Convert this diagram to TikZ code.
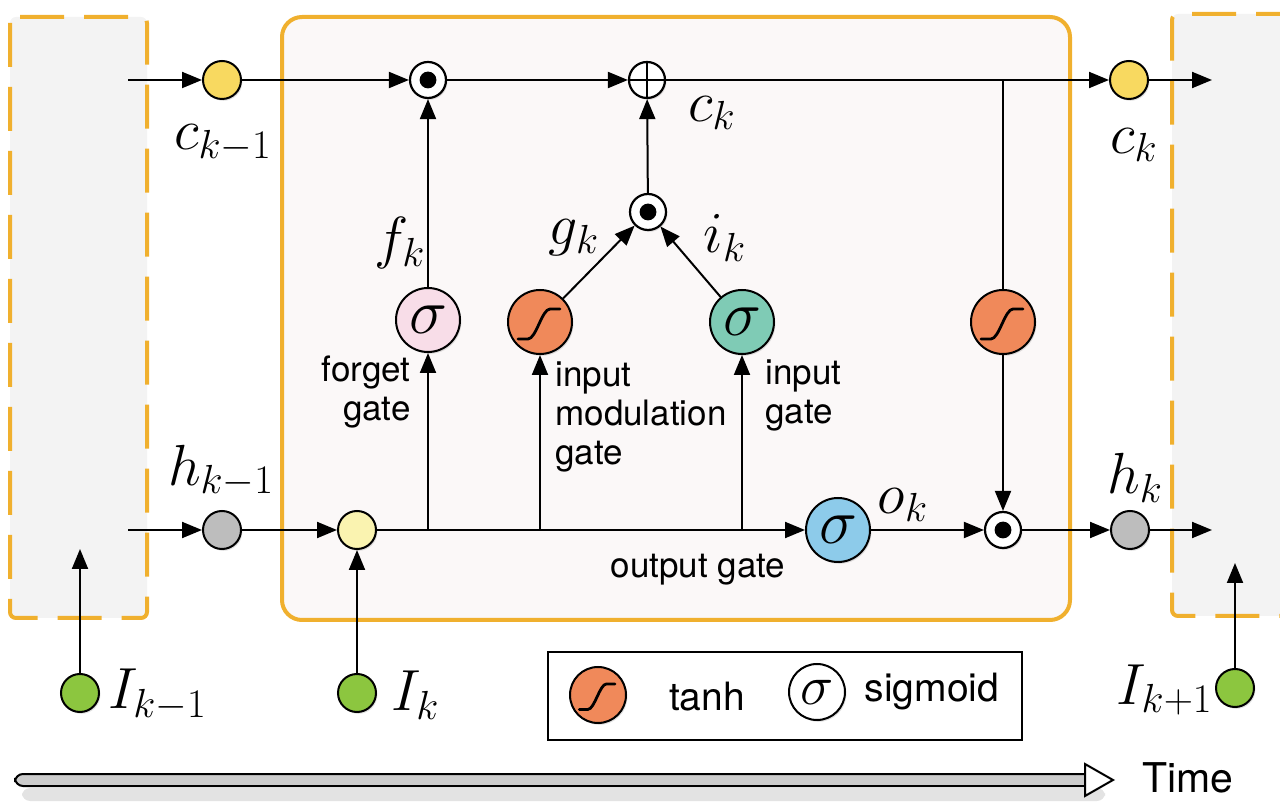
\RequirePackage{fix-cm}
\documentclass[tikz,border=0pt]{standalone}
\usepackage{fontspec}
\setsansfont{TeX Gyre Heros}
\usetikzlibrary{arrows.meta,shadows}
\definecolor{frameor}{HTML}{F0B02E}
\definecolor{cellfill}{HTML}{FBF8F8}
\definecolor{sidefill}{HTML}{F3F3F3}
\definecolor{cyel}{HTML}{F8D960}
\definecolor{hgray}{HTML}{BDBDBD}
\definecolor{xyel}{HTML}{FAF3B0}
\definecolor{igreen}{HTML}{8CC63F}
\definecolor{fpink}{HTML}{F8DDE8}
\definecolor{torange}{HTML}{F0895A}
\definecolor{iteal}{HTML}{7FCBB5}
\definecolor{oblue}{HTML}{8DCBEA}
\newcommand\tanhmark[2][1]{\draw[line width=1.4pt, line cap=round, shift={(#2.center)}, scale=#1] (-11pt,-8.5pt) -- (-6pt,-8.5pt) .. controls (-2pt,-8.5pt) and (1pt,6.5pt) .. (5pt,6.5pt) -- (10pt,6.5pt);}
\begin{document}
\begin{tikzpicture}[x=0.5pt,y=-0.5pt,
  shd/.style={drop shadow={opacity=0.25, shadow xshift=0.7pt, shadow yshift=-0.9pt}},
  small/.style={circle, draw, line width=1pt, minimum size=19pt, inner sep=0pt, shd},
  gate/.style={circle, draw, line width=1pt, minimum size=32pt, inner sep=0pt, shd, font=\fontsize{32}{32}\selectfont},
  opnode/.style={circle, draw, line width=1.1pt, fill=white, minimum size=18pt, inner sep=0pt, shd},
  odotnode/.style={opnode, path picture={\fill[black] (path picture bounding box.center) circle (4.2pt);}},
  oplusnode/.style={opnode, path picture={\draw[line width=1pt] (path picture bounding box.north) -- (path picture bounding box.south) (path picture bounding box.west) -- (path picture bounding box.east);}},
  arr/.style={-{Triangle[length=10pt,width=8pt]}, line width=1pt},
  ln/.style={line width=1pt},
  mlbl/.style={inner sep=0pt, font=\fontsize{29}{29}\selectfont},
  txt/.style={inner sep=0pt, font=\sffamily\fontsize{17.5}{19.5}\selectfont},
  bigtxt/.style={inner sep=0pt, font=\sffamily\fontsize{19.5}{21}\selectfont},
  frame/.style={draw=frameor, line width=2pt}
]
\useasboundingbox (0,0) rectangle (1280,806);
% boxes
\draw[frame, fill=sidefill, dash pattern=on 22pt off 10pt, rounded corners=3pt] (10,17) rectangle (147,618);
\draw[frame, fill=sidefill, dash pattern=on 22pt off 10pt, rounded corners=3pt] (1300,14) -- (1172,14) -- (1172,616) -- (1300,616);
\draw[frame, fill=cellfill, rounded corners=10pt] (282,17) rectangle (1070,620);

% top row
\coordinate (cs) at (128,80);
\node[small, fill=cyel] (cprev) at (222,80) {};
\node[odotnode] (fmul) at (428,80) {};
\node[oplusnode] (cadd) at (647,80) {};
\coordinate (cj) at (1003,80);
\node[small, fill=cyel] (cout) at (1129,80) {};
\coordinate (ce) at (1212,80);

% gates
\node[gate, fill=fpink] (fsig) at (428,320) {$\sigma$};
\node[odotnode] (gmul) at (648,212) {};
\node[gate, fill=torange] (gtanh) at (540,322) {};
\node[gate, fill=iteal] (isig) at (742,322) {$\sigma$};
\node[gate, fill=torange] (ctanh) at (1003,322) {};
\tanhmark{gtanh}
\tanhmark{ctanh}

% bottom row
\coordinate (hs) at (128,530);
\node[small, fill=hgray] (hprev) at (222,530) {};
\node[small, fill=xyel] (xin) at (357,530) {};
\coordinate (j1) at (428,530);
\coordinate (j2) at (540,530);
\coordinate (j3) at (742,530);
\node[gate, fill=oblue] (osig) at (838,530) {$\sigma$};
\node[odotnode] (hmul) at (1003,530) {};
\node[small, fill=hgray] (hout) at (1130,530) {};
\coordinate (he) at (1212,530);

% inputs
\node[small, fill=igreen] (Iprev) at (80,693) {};
\coordinate (Iprevt) at (80,549);
\node[small, fill=igreen] (Ik) at (357,693) {};
\node[small, fill=igreen] (Inext) at (1235,688) {};
\coordinate (Inextt) at (1235,563);

% connectors top
\draw[arr] (cs) -- (cprev);
\draw[arr] (cprev) -- (fmul);
\draw[arr] (fmul) -- (cadd);
\draw[arr] (cadd) -- (cout);
\draw[arr] (cout) -- (ce);
\draw[arr] (fsig) -- (fmul);
\draw[arr] (gmul) -- (cadd);
\draw[arr] (gtanh) -- (gmul);
\draw[arr] (isig) -- (gmul);
\draw[ln] (cj) -- (ctanh);
\draw[arr] (ctanh) -- (hmul);

% connectors bottom
\draw[arr] (hs) -- (hprev);
\draw[arr] (hprev) -- (xin);
\draw[arr] (xin) -- (osig);
\draw[arr] (j1) -- (fsig);
\draw[arr] (j2) -- (gtanh);
\draw[arr] (j3) -- (isig);
\draw[arr] (osig) -- (hmul);
\draw[arr] (hmul) -- (hout);
\draw[arr] (hout) -- (he);
\draw[arr] (Iprev) -- (Iprevt);
\draw[arr] (Ik) -- (xin);
\draw[arr] (Inext) -- (Inextt);

% math labels
\node[mlbl] (lcp) at (223,143) {$c_{k-1}$};
\node[mlbl] (lf) at (400,243) {$f_k$};
\node[mlbl] (lc) at (712,113) {$c_k$};
\node[mlbl] (lg) at (574,238) {$g_k$};
\node[mlbl] (li) at (725,238) {$i_k$};
\node[mlbl] (lco) at (1134,145) {$c_k$};
\node[mlbl] (lhp) at (221,471) {$h_{k-1}$};
\node[mlbl] (lo) at (903,505) {$o_k$};
\node[mlbl] (lh) at (1135,478) {$h_k$};
\node[mlbl, anchor=west] (lIp) at (108,695) {$I_{k-1}$};
\node[mlbl, anchor=west] (lIk) at (391,695) {$I_k$};
\node[mlbl, anchor=east] (lIn) at (1213,690) {$I_{k+1}$};

% text labels
\node[txt, anchor=east, align=right] (tforget) at (411,392) {forget\\gate};
\node[txt, anchor=west, align=left] (tmod) at (555,417) {input\\modulation\\gate};
\node[txt, anchor=west, align=left] (tin) at (765,395) {input\\gate};
\node[txt] (tout) at (698,570) {output gate};

% legend
\node[draw, line width=1pt, minimum width=237pt, minimum height=44pt, inner sep=0pt] (legend) at (785,696) {};
\node[gate, fill=torange, minimum size=28pt] (ltanh) at (598,695) {};
\tanhmark[0.85]{ltanh}
\node[bigtxt] (ttanh) at (707,697) {tanh};
\node[gate, fill=white, minimum size=28pt, font=\fontsize{28}{28}\selectfont] (lsig) at (817,692) {$\sigma$};
\node[bigtxt] (tsig) at (932,692) {sigmoid};

% time arrow
\fill[gray!22, rounded corners=4pt] (22,788) rectangle (1105,801);
\draw[line width=1pt, fill=gray!40, rounded corners=4pt] (15,774) rectangle (1095,786);
\draw[line width=1pt, fill=white, line join=miter] (1085,764) -- (1113,780) -- (1085,796) -- cycle;
\node[inner sep=0pt, font=\sffamily\fontsize{20.5}{22}\selectfont] (ttime) at (1188,778) {Time};
\end{tikzpicture}
\end{document}
